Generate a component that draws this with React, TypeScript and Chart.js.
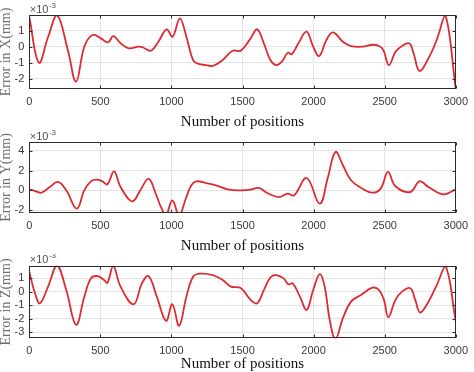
import React, { useEffect, useRef } from 'react';
import { Chart, registerables } from 'chart.js';

Chart.register(...registerables);

// ---- data (values in units of 1e-3 mm) ----
const positionsX = [0, 67, 132, 195, 271, 329, 387, 445, 503, 554, 591, 642, 700, 769, 800, 855, 908, 966, 1008, 1059, 1105, 1152, 1190, 1244, 1290, 1360, 1430, 1487, 1557, 1603, 1650, 1696, 1737, 1777, 1819, 1846, 1893, 1950, 1997, 2039, 2090, 2136, 2206, 2263, 2345, 2414, 2460, 2490, 2530, 2576, 2622, 2673, 2703, 2745, 2808, 2866, 2926, 3000];
const errorX = [1.85, -0.99, 0.6, 1.96, -0.2, -2.17, 0, 0.73, 0.52, 0.27, 0.66, 0.21, -0.1, 0, -0.05, -0.25, 0.31, 1.08, 0.62, 1.76, 0.62, -0.83, -1.07, -1.14, -1.2, -0.83, -0.25, -0.25, 0.52, 1.08, 0.21, -0.83, -1.14, -0.93, -0.37, -0.47, 0.21, 0.93, 0, -0.58, 0.42, 0.89, 0.31, 0.04, 0, 0.12, 0.04, -0.2, -1.14, -0.31, 0.04, 0.21, -0.41, -1.51, -0.72, 0.42, 1.96, -2.63];

const positionsY = [0, 40, 86, 144, 202, 260, 334, 387, 433, 475, 514, 549, 596, 642, 723, 781, 839, 885, 931, 962, 1006, 1054, 1105, 1140, 1175, 1244, 1313, 1395, 1487, 1557, 1615, 1673, 1754, 1817, 1863, 1951, 2043, 2101, 2154, 2206, 2263, 2333, 2414, 2472, 2523, 2576, 2680, 2745, 2808, 2912, 3000];
const errorY = [0.1, -0.07, -0.24, 0.34, 0.85, 0, -1.86, 0, 0.91, 1.08, 0.91, 0.61, 1.93, 0.34, -1.12, 0, 1.18, -0.17, -1.86, -2.5, -1.02, -2.5, -0.68, 0.51, 0.91, 0.74, 0.51, 0.1, 0, 0.07, 0.24, -0.27, -0.68, -0.34, -0.51, 1.25, -1.35, 1.35, 3.89, 2.54, 1.02, 0.27, -0.24, 0.17, 1.86, 0.41, -0.17, 0.91, 0.34, -0.41, 0.1];

const positionsZ = [0, 40, 74, 132, 195, 260, 329, 387, 433, 480, 526, 549, 591, 642, 734, 792, 839, 897, 962, 1006, 1054, 1105, 1152, 1198, 1290, 1360, 1418, 1487, 1557, 1603, 1650, 1696, 1737, 1789, 1823, 1853, 1904, 1951, 1997, 2043, 2078, 2113, 2154, 2206, 2263, 2333, 2414, 2460, 2495, 2525, 2576, 2622, 2680, 2715, 2749, 2808, 2866, 2928, 3000];
const errorZ = [1.45, -0.12, -0.86, 0.37, 1.91, 0.12, -2.45, -0.37, 0.98, 1.15, 0.86, 0.66, 1.89, 0.37, -0.93, 0.61, 1.15, -0.37, -2.16, -0.93, -2.52, -0.37, 1.1, 1.33, 1.23, 0.86, 0.37, 0.27, -0.61, -0.86, 0.12, 1.05, 1.23, 0.98, 0.54, 0.61, -0.37, -1.35, 0.12, 1.3, 0.37, -2.08, -3.5, -1.96, -0.74, -0.25, 0.29, 0.12, -0.61, -1.89, -0.61, 0, 0.25, -0.61, -1.54, -0.74, 0.49, 1.89, -2.2];

const xTicks = [0, 500, 1000, 1500, 2000, 2500, 3000];
const yTicksX = [-2, -1, 0, 1];
const yTicksY = [-2, 0, 2, 4];
const yTicksZ = [-3, -2, -1, 0, 1];

const xTitle = 'Number of positions';
const yTitleX = 'Error in X(mm)';
const yTitleY = 'Error in Y(mm)';
const yTitleZ = 'Error in Z(mm)';
const exponentBase = '\u00d710';
const exponentPower = '-3';

// ---- panel layout ----
const panels = [
  { xs: positionsX, ys: errorX, yTicks: yTicksX, yMin: -2.63, yMax: 1.97, title: yTitleX, top: 0, height: 130, padTop: 15, axisH: 41 },
  { xs: positionsY, ys: errorY, yTicks: yTicksY, yMin: -2.3, yMax: 4.9, title: yTitleY, top: 130, height: 124, padTop: 12, axisH: 41 },
  { xs: positionsZ, ys: errorZ, yTicks: yTicksZ, yMin: -3.45, yMax: 1.92, title: yTitleZ, top: 254, height: 118, padTop: 11.7, axisH: 33.7 },
];

const boxPlugin = {
  id: 'matlabBox',
  afterDatasetsDraw(chart: any) {
    const { ctx, chartArea: a, scales } = chart;
    const L = Math.round(a.left) + 0.5;
    const R = Math.round(a.right) - 0.5;
    const T = Math.round(a.top) + 0.5;
    const B = Math.round(a.bottom) - 0.5;
    ctx.save();
    ctx.strokeStyle = '#2b2b2b';
    ctx.lineWidth = 1;
    ctx.strokeRect(L, T, R - L, B - T);
    ctx.beginPath();
    const tl = 3;
    scales.x.ticks.forEach((t: any) => {
      const px = Math.round(scales.x.getPixelForValue(t.value)) + 0.5;
      ctx.moveTo(px, B); ctx.lineTo(px, B - tl);
      ctx.moveTo(px, T); ctx.lineTo(px, T + tl);
    });
    scales.y.ticks.forEach((t: any) => {
      const py = Math.round(scales.y.getPixelForValue(t.value)) + 0.5;
      ctx.moveTo(L, py); ctx.lineTo(L + tl, py);
      ctx.moveTo(R, py); ctx.lineTo(R - tl, py);
    });
    ctx.stroke();
    // exponent label
    ctx.fillStyle = '#505050';
    ctx.textBaseline = 'middle';
    ctx.textAlign = 'left';
    ctx.font = '11px "Liberation Sans", Arial, sans-serif';
    ctx.fillText(exponentBase, a.left + 0.5, a.top - 5.5);
    const w = ctx.measureText(exponentBase).width;
    ctx.font = '8px "Liberation Sans", Arial, sans-serif';
    ctx.fillText(exponentPower, a.left + 0.5 + w + 0.5, a.top - 9.5);
    ctx.restore();
  },
};

function Panel({ p }: { p: any }) {
  const ref = useRef<HTMLCanvasElement>(null);
  useEffect(() => {
    if (!ref.current) return;
    const data = p.xs.map((x: number, i: number) => ({ x, y: p.ys[i] }));
    const chart = new Chart(ref.current, {
      type: 'line',
      data: {
        datasets: [{
          data,
          borderColor: '#dc2b33',
          borderWidth: 1.8,
          pointRadius: 0,
          tension: 0.4,
          fill: false,
        }],
      },
      options: {
        animation: false,
        responsive: false,
        devicePixelRatio: 1,
        events: [],
        layout: { padding: { top: p.padTop, right: 13, left: 0, bottom: 0 } },
        plugins: { legend: { display: false }, tooltip: { enabled: false } },
        scales: {
          x: {
            type: 'linear',
            min: 0,
            max: 3000,
            afterBuildTicks: (s: any) => { s.ticks = xTicks.map((v) => ({ value: v })); },
            afterFit: (s: any) => { s.height = p.axisH; },
            grid: { color: '#e4e4e4', drawTicks: false, lineWidth: 1 },
            border: { display: false },
            ticks: {
              autoSkip: false, maxRotation: 0, padding: 6, color: '#3a3a3a',
              font: { family: '"Liberation Sans", Arial, sans-serif', size: 11 },
              callback: (v: any) => String(v),
            },
            title: {
              display: true, text: xTitle, color: '#111111',
              font: { family: '"Liberation Serif", "Times New Roman", serif', size: 15, lineHeight: 1 },
              padding: { top: 0, bottom: 0 },
            },
          },
          y: {
            type: 'linear',
            min: p.yMin,
            max: p.yMax,
            afterBuildTicks: (s: any) => { s.ticks = p.yTicks.map((v: number) => ({ value: v })); },
            afterFit: (s: any) => { s.width = 29.3; },
            grid: { color: '#e4e4e4', drawTicks: false, lineWidth: 1 },
            border: { display: false },
            ticks: {
              autoSkip: false, padding: 5, color: '#3a3a3a',
              font: { family: '"Liberation Sans", Arial, sans-serif', size: 11 },
              callback: (v: any) => String(v),
            },
            title: {
              display: true, text: p.title, color: '#707070',
              font: { family: '"Liberation Serif", "Times New Roman", serif', size: 14, lineHeight: 1 },
              padding: { top: -1, bottom: 0 },
            },
          },
        },
      },
      plugins: [boxPlugin],
    } as any);
    return () => chart.destroy();
  }, [p]);
  return (
    <canvas
      ref={ref}
      width={474}
      height={p.height}
      style={{ position: 'absolute', left: 0, top: p.top, width: 474, height: p.height }}
    />
  );
}

export default function App() {
  return (
    <div style={{ position: 'fixed', left: 0, top: 0, width: 474, height: 372, background: '#ffffff', overflow: 'hidden' }}>
      {panels.map((p, i) => <Panel key={i} p={p} />)}
    </div>
  );
}
